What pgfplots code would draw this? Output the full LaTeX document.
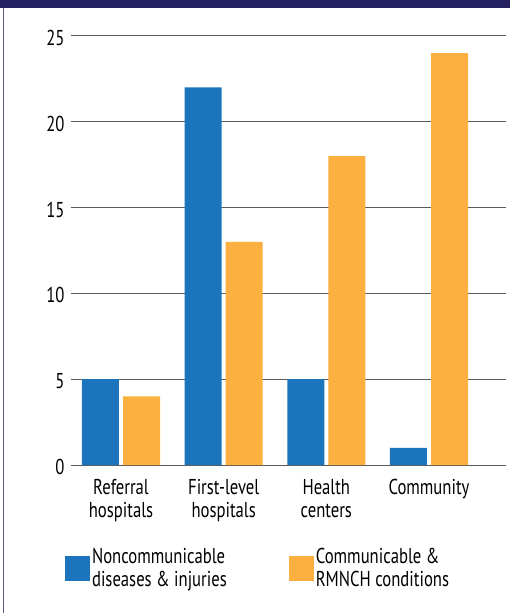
\documentclass[border=0pt]{standalone}
\usepackage{pgfplots}
\pgfplotsset{compat=1.18}
\usepackage{fontspec}
\setmainfont{PT Sans}[FakeStretch=0.775]
\definecolor{navy}{HTML}{262262}
\definecolor{barblue}{HTML}{1C75BC}
\definecolor{barorange}{HTML}{FBB040}
\definecolor{gridgray}{HTML}{5A5A5A}
\begin{document}
\begin{tikzpicture}[x=1pt,y=1pt]
\useasboundingbox (0,0) rectangle (510,613);
\fill[white] (0,0) rectangle (510,613);
\fill[navy] (0,605) rectangle (510,613);
\fill[navy!75] (3.3,0) rectangle (4.4,605);
\begin{axis}[
  at={(71pt,148pt)}, anchor=south west, scale only axis,
  width=435pt, height=429pt,
  xmin=-0.487, xmax=3.75, ymin=0, ymax=25,
  axis line style={draw=none},
  ytick={0,5,...,25}, ymajorgrids, grid style={gridgray, line width=1pt},
  xtick={0,1,2,3},
  xticklabels={{Referral\\hospitals},{First-level\\hospitals},{Health\\centers},{Community}},
  xticklabel style={align=center, yshift=-11pt},
  yticklabel style={xshift=-3pt, yshift=-2pt},
  major tick length=0pt,
  tick label style={font=\fontsize{21.5}{22.5}\selectfont},
  /pgf/number format/assume math mode=true,
  ybar, bar width=0.36,
  legend columns=2,
  legend image code/.code={\fill[#1] (0pt,-12.5pt) rectangle (25pt,12.5pt);},
  legend style={at={(rel axis cs:-0.021,-0.185)}, anchor=north west, draw=none, fill=none,
    font=\fontsize{21.5}{22.5}\selectfont, cells={anchor=west, align=left},
    /tikz/every even column/.append style={column sep=60pt}},
]
\addplot[fill=barblue, draw=none, bar shift=-0.2] coordinates {(0,5) (1,22) (2,5) (3,1)};
\addlegendentry{Noncommunicable\\diseases \& injuries}
\addplot[fill=barorange, draw=none, bar shift=0.2] coordinates {(0,4) (1,13) (2,18) (3,24)};
\addlegendentry{Communicable \&\\RMNCH conditions}
\end{axis}
\end{tikzpicture}
\end{document}
